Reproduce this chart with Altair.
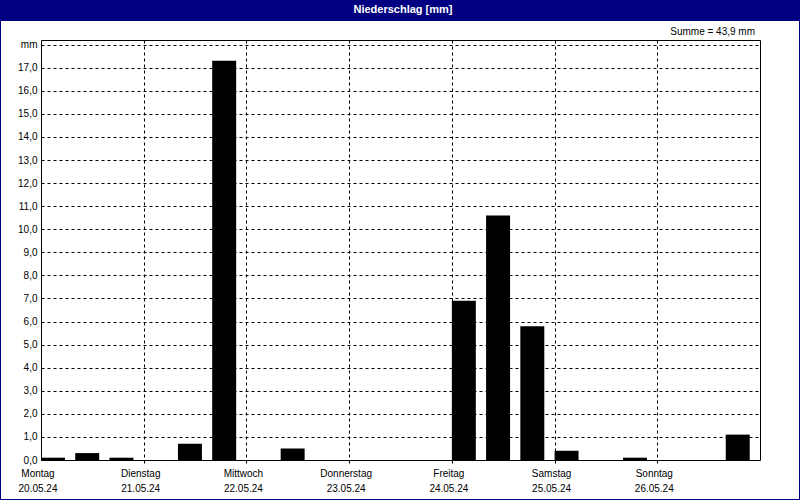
import altair as alt
import pandas as pd

# 8-hourly precipitation totals [mm], Monday 20.05.24 00:00 .. Sunday 26.05.24 24:00
values = [0.1, 0.3, 0.1, 0.0, 0.7, 17.3, 0.0, 0.5, 0.0, 0.0, 0.0, 0.0,
          6.9, 10.6, 5.8, 0.4, 0.0, 0.1, 0.0, 0.0, 1.1]
day_names = ["Montag", "Dienstag", "Mittwoch", "Donnerstag", "Freitag", "Samstag", "Sonntag"]
dates = ["20.05.24", "21.05.24", "22.05.24", "23.05.24", "24.05.24", "25.05.24", "26.05.24"]
y_ticks = list(range(0, 19))
title_text = "Niederschlag [mm]"

STEP = 8          # hours per bar interval
BAR_FRAC = 0.7    # bar width as fraction of the interval
FONT = "Liberation Sans"
NAVY = "#000080"

W, H = 719, 420

bars_df = pd.DataFrame({
    "start": [i * STEP for i in range(len(values))],
    "end": [i * STEP + STEP * BAR_FRAC for i in range(len(values))],
    "value": values,
})
bars_df = bars_df[bars_df["value"] > 0]

days_df = pd.DataFrame({
    "hour": [i * 24 for i in range(len(day_names))],
    "name": day_names,
    "date": dates,
})

total = sum(values)
summe = "Summe = " + f"{total:.1f}".replace(".", ",") + " mm"
one = pd.DataFrame({"t": [title_text], "s": [summe]})

x_scale = alt.Scale(domain=[0, 24 * len(day_names)], nice=False, zero=False)
y_scale = alt.Scale(domain=[0, 18.2], nice=False)

x_axis = alt.Axis(values=[24, 48, 72, 96, 120, 144], labels=False,
                  domain=False, ticks=True, tickSize=3, tickColor="black",
                  grid=True, gridColor="black", gridDash=[3, 3],
                  gridOpacity=1, gridWidth=1, title=None)

bars = alt.Chart(bars_df).mark_bar(color="#000000").encode(
    x=alt.X("start:Q", scale=x_scale, title=None, axis=x_axis),
    x2="end:Q",
    y=alt.Y("value:Q", scale=y_scale, title=None,
            axis=alt.Axis(values=y_ticks, domain=False, ticks=False,
                          labelPadding=4, labelFont=FONT, labelFontSize=10,
                          labelColor="black",
                          labelExpr="datum.value == 18 ? 'mm' : replace(format(datum.value, '.1f'), '.', ',')",
                          grid=True, gridColor="black", gridDash=[3, 3],
                          gridOpacity=1, gridWidth=1)),
    y2=alt.datum(0),
)

day_text = alt.Chart(days_df).mark_text(
    font=FONT, fontSize=10, color="black", baseline="alphabetic", dx=-3
).encode(
    x=alt.X("hour:Q", scale=x_scale, title=None, axis=x_axis),
    y=alt.value(437),
    text="name:N",
)

date_text = alt.Chart(days_df).mark_text(
    font=FONT, fontSize=10, color="black", baseline="alphabetic", dx=-3
).encode(
    x=alt.X("hour:Q", scale=x_scale, title=None, axis=x_axis),
    y=alt.value(452),
    text="date:N",
)

title_bar = alt.Chart(one).mark_rect(color=NAVY).encode(
    x=alt.value(-41), x2=alt.value(759), y=alt.value(-40), y2=alt.value(-19)
)

frame = alt.Chart(one).mark_rect(filled=False, stroke=NAVY, strokeWidth=2).encode(
    x=alt.value(-41), x2=alt.value(759), y=alt.value(-40), y2=alt.value(460)
)

title_txt = alt.Chart(one).mark_text(
    font=FONT, fontSize=11, fontWeight="bold", color="white", baseline="alphabetic", align="center"
).encode(x=alt.value(362), y=alt.value(-27), text="t:N")

summe_txt = alt.Chart(one).mark_text(
    font=FONT, fontSize=10, color="black", baseline="alphabetic", align="right"
).encode(x=alt.value(714), y=alt.value(-5), text="s:N")

chart = alt.layer(
    bars, day_text, date_text, title_bar, frame, title_txt, summe_txt
).properties(
    width=W, height=H,
    autosize=alt.AutoSizeParams(type="none"),
    padding={"left": 41, "top": 40, "right": 40, "bottom": 40},
).configure(
    background="#ffffff",
).configure_view(
    stroke="black", strokeWidth=1,
)

chart.save("out.html", embed_options={"renderer": "svg", "actions": False})
